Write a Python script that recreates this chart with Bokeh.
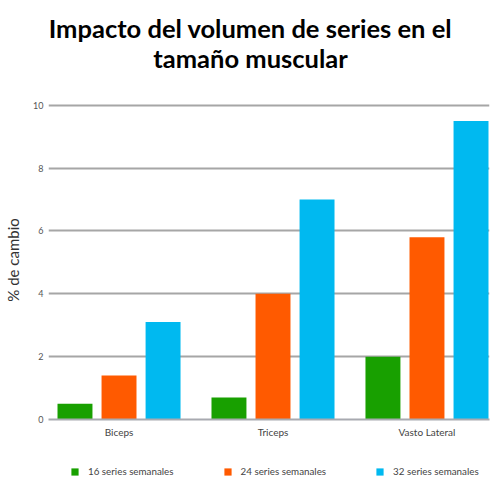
from bokeh.plotting import figure
from bokeh.layouts import column
from bokeh.models import Range1d, FixedTicker, Legend, LegendItem, ColumnDataSource
from bokeh.core.properties import value
from bokeh.embed import file_html
from bokeh.resources import INLINE

# ---- data ----
categories = ["Biceps", "Triceps", "Vasto Lateral"]
series_names = ["16 series semanales", "24 series semanales", "32 series semanales"]
s16 = [0.5, 0.7, 2.0]
s24 = [1.4, 4.0, 5.8]
s32 = [3.1, 7.0, 9.5]
y_ticks = [0, 2, 4, 6, 8, 10]
title_lines = ["Impacto del volumen de series en el", "tamaño muscular"]
y_label = "% de cambio"

colors = ["#18a000", "#ff5a00", "#00b9f0"]
offsets = [-0.286, 0.0, 0.286]
bar_w = 0.227
FONT = "Lato"
W = 500
HEAD_H = 85
MAIN_H = 365
FOOT_H = 50
LEFT = 48
RIGHT = 11

# ---- header (title) ----
head = figure(width=W, height=HEAD_H, output_backend="svg", toolbar_location=None,
              x_range=Range1d(LEFT, W - RIGHT), y_range=Range1d(HEAD_H, 0),
              x_axis_type=None, y_axis_type=None,
              min_border_left=LEFT, min_border_right=RIGHT, min_border_top=0, min_border_bottom=0)
head.outline_line_color = None
head.text(x=[W / 2, W / 2], y=[27, 57], text=title_lines,
          text_align="center", text_baseline="alphabetic",
          text_font=value(FONT), text_font_style="bold",
          text_font_size="25.5px", text_color="#000000")

# ---- main chart ----
p = figure(width=W, height=MAIN_H, output_backend="svg", toolbar_location=None,
           x_range=Range1d(-0.458, 2.406), y_range=Range1d(0, 10.15),
           min_border_left=LEFT, min_border_right=RIGHT, min_border_top=15, min_border_bottom=31)
p.outline_line_color = None

for vals, col, off in zip([s16, s24, s32], colors, offsets):
    src = ColumnDataSource(dict(x=[i + off for i in range(len(categories))], top=vals))
    p.vbar(x="x", top="top", width=bar_w, bottom=0, source=src,
           fill_color=col, line_color=None)

p.xaxis.ticker = FixedTicker(ticks=list(range(len(categories))))
p.xaxis.major_label_overrides = {i: c for i, c in enumerate(categories)}
p.xaxis.axis_line_color = "#a8aab0"
p.xaxis.axis_line_width = 1.8
p.xaxis.major_tick_line_color = None
p.xaxis.major_tick_out = 0
p.xaxis.major_tick_in = 0
p.xaxis.minor_tick_line_color = None
p.xaxis.major_label_text_font = FONT
p.xaxis.major_label_text_font_size = "10px"
p.xaxis.major_label_text_color = "#444444"
p.xaxis.major_label_standoff = 6

p.yaxis.ticker = FixedTicker(ticks=y_ticks)
p.yaxis.axis_line_color = None
p.yaxis.major_tick_line_color = None
p.yaxis.major_tick_out = 0
p.yaxis.major_tick_in = 0
p.yaxis.minor_tick_line_color = None
p.yaxis.major_label_text_font = FONT
p.yaxis.major_label_text_font_size = "9px"
p.yaxis.major_label_text_color = "#555555"
p.yaxis.major_label_standoff = 5
p.yaxis.axis_label = y_label
p.yaxis.axis_label_text_font = FONT
p.yaxis.axis_label_text_font_style = "normal"
p.yaxis.axis_label_text_font_size = "15px"
p.yaxis.axis_label_text_color = "#333333"
p.yaxis.axis_label_standoff = 8

p.xgrid.grid_line_color = None
p.ygrid.ticker = FixedTicker(ticks=y_ticks)
p.ygrid.grid_line_color = "#a6a6a6"
p.ygrid.grid_line_width = 1.8

# ---- footer (legend) ----
foot = figure(width=W, height=FOOT_H, output_backend="svg", toolbar_location=None,
              x_range=Range1d(0, 1), y_range=Range1d(0, 1),
              x_axis_type=None, y_axis_type=None,
              min_border_left=LEFT, min_border_right=RIGHT, min_border_top=0, min_border_bottom=0)
foot.outline_line_color = None
items = []
for name, col in zip(series_names, colors):
    # zero-height proxy bar: only provides the legend swatch
    r = foot.vbar(x=[0], top=[0], bottom=0, width=0.0, fill_color=col, line_color=None)
    items.append(LegendItem(label=name, renderers=[r]))
legend = Legend(items=items, orientation="horizontal", location=(70 - LEFT, 23),
                glyph_width=9, glyph_height=9, label_height=9, label_standoff=9,
                spacing=49, padding=0, margin=0,
                border_line_color=None, background_fill_alpha=0,
                label_text_font=FONT, label_text_font_size="9.8px", label_text_color="#444444")
foot.add_layout(legend, "center")

layout = column(head, p, foot, spacing=0)
open("out.html", "w").write(file_html(layout, INLINE))
